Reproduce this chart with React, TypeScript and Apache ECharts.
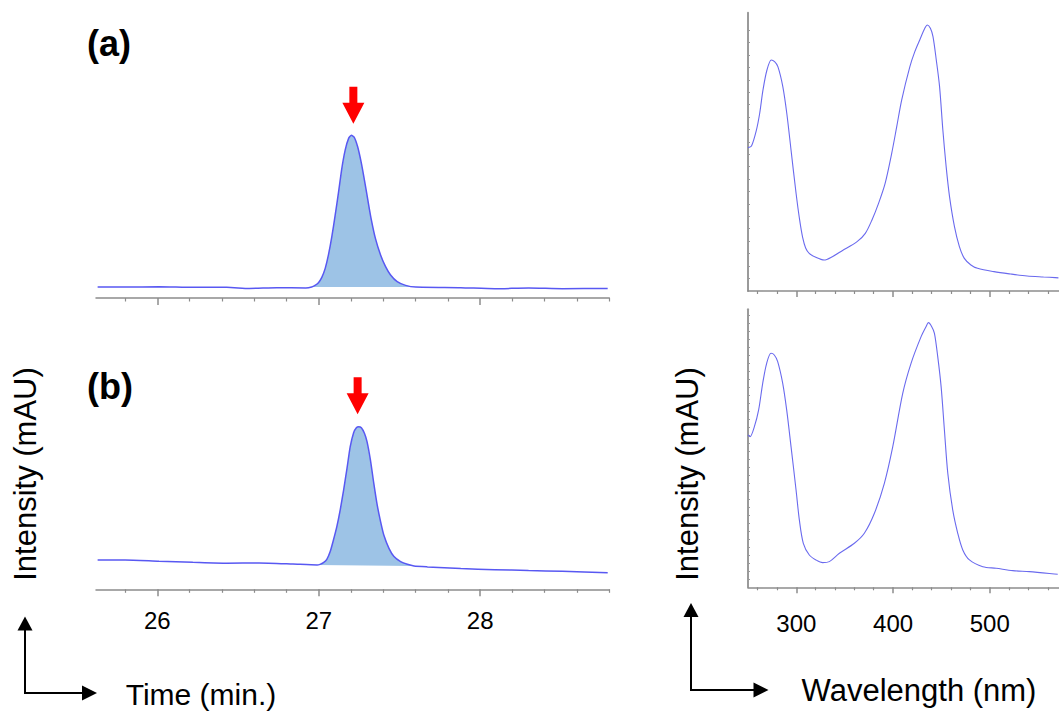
import React, { useEffect, useRef } from "react";
import * as echarts from "echarts";

// ---- Chromatogram (a): retention time (min) / detector response ----
const timeA = [
  25.63, 25.8, 26.01, 26.22, 26.43, 26.57, 26.74, 26.92,
  26.956, 26.977, 26.998, 27.019, 27.04, 27.06, 27.081, 27.102, 27.123, 27.143,
  27.164, 27.185, 27.202, 27.22, 27.241, 27.262, 27.283, 27.304, 27.324, 27.351,
  27.383, 27.414, 27.445, 27.486, 27.538, 27.601,
  27.88, 28.09, 28.3, 28.51, 28.79,
];
const signalA = [
  0.2, 0.2, 0.4, 0.0, 0.0, -0.7, -0.2, -0.4,
  0.2, 1.3, 3.1, 6.6, 12.5, 21.3, 33.3, 47.6, 62.9, 78.3,
  90.4, 98.0, 100, 98.7, 92.5, 82.7, 70.6, 57.5, 45.4, 32.2,
  21.3, 13.6, 8.1, 3.7, 1.3, 0.2,
  -0.2, -0.9, -0.4, -0.9, -0.7,
];
const peakWindowA = [26.956, 27.601];
const apexA = [27.202, 100];

// ---- Chromatogram (b) ----
const timeB = [
  25.63, 25.8, 26.01, 26.22, 26.43, 26.63, 26.84, 26.99,
  27.008, 27.029, 27.05, 27.071, 27.091, 27.112, 27.133, 27.154, 27.175, 27.195,
  27.216, 27.233, 27.247, 27.264, 27.283, 27.299, 27.32, 27.341, 27.362, 27.383,
  27.403, 27.435, 27.466, 27.507, 27.549, 27.59,
  27.674, 27.88, 28.09, 28.3, 28.51, 28.79,
];
const signalB = [
  9.9, 9.9, 9.0, 8.3, 7.7, 7.9, 7.2, 6.6,
  7.0, 8.1, 10.3, 15.4, 23.0, 31.8, 42.8, 55.9, 70.2, 84.4,
  93.6, 96.9, 97.6, 96.9, 93.2, 87.7, 75.7, 60.3, 46.1, 35.1,
  26.3, 17.5, 12.1, 8.8, 7.0, 5.9,
  5.3, 4.2, 3.5, 2.9, 2.4, 1.5,
];
const peakWindowB = [26.99, 27.59];
const apexB = [27.247, 97.6];

// ---- UV-Vis spectrum of peak (a): wavelength (nm) / absorbance ----
const wavelengthA = [
  250, 253.6, 258.7, 262.1, 265.5, 269.6, 274.1, 277.5, 280.9, 286.0, 290.1,
  294.5, 299.7, 303.4, 306.5, 309.6, 313.3, 320.1, 328.7, 337.2, 347.4, 362.8,
  371.3, 378.2, 385.0, 391.8, 398.6, 403.8, 408.9, 417.4, 422.5, 427.6, 432.8,
  435.5, 438.6, 441.3, 444.7, 448.1, 451.5, 454.9, 458.4, 463.5, 468.6, 473.7,
  480.5, 487.4, 504.4, 521.5, 538.6, 555.6, 567.6, 571,
];
const absorbanceA = [
  10.54, 10.67, 11.96, 13.31, 15.19, 16.8, 17.61, 17.47, 17.07, 15.46, 13.31,
  10.35, 6.86, 4.71, 3.3, 2.45, 2.02, 1.7, 1.48, 1.75, 2.23, 2.96,
  3.63, 4.71, 6.05, 7.66, 10.08, 12.23, 14.38, 17.07, 18.28, 19.22, 20.16,
  20.43, 20.16, 19.49, 17.61, 15.46, 11.96, 9.01, 6.59, 4.17, 2.56, 1.61,
  1.08, 0.81, 0.54, 0.35, 0.19, 0.11, 0.06, 0.04,
];

// ---- UV-Vis spectrum of peak (b) ----
const wavelengthB = [
  250, 252.1, 256.6, 261.0, 265.2, 269.3, 273.8, 277.2, 280.7, 285.9, 290.0,
  294.5, 299.7, 303.1, 307.2, 313.4, 320.3, 327.2, 334.1, 344.5, 360.0, 370.3,
  380.7, 391.0, 399.7, 410.0, 418.6, 429.0, 434.1, 436.6, 440.0, 442.8, 446.2,
  449.7, 453.1, 456.6, 461.7, 466.9, 472.1, 479.0, 492.8, 506.6, 523.8, 541.0,
  570.3, 571,
];
const absorbanceB = [
  19.04, 18.83, 20.08, 22.17, 25.5, 28.0, 29.25, 29.04, 28.21, 25.5, 22.17,
  17.58, 12.17, 8.42, 5.5, 4.04, 3.42, 3.08, 3.21, 4.25, 5.5, 6.75,
  9.25, 13.0, 17.58, 24.25, 28.0, 31.33, 32.58, 33.08, 32.58, 31.75, 28.83,
  25.08, 19.67, 14.25, 9.67, 6.75, 4.67, 3.42, 2.58, 2.38, 2.08, 1.96,
  1.63, 1.62,
];

// ---- Axis ticks ----
const timeMajorTicks = [26, 27, 28];
const timeMinorTicks = [25.8, 26.2, 26.4, 26.6, 26.8, 27.2, 27.4, 27.6, 27.8, 28.2, 28.4, 28.6, 28.8];
const wlMajorTicks = [300, 400, 500];
const wlMinorTicks = [260, 280, 320, 340, 360, 380, 420, 440, 460, 480, 520, 540, 560];
const absTicksTop = Array.from({ length: 21 }, (_, i) => i);
const absTicksBottom = Array.from({ length: 34 }, (_, i) => i + 1);

const FONT = "'Liberation Sans', Arial, Helvetica, sans-serif";
const AXIS_GRAY = "#8c8c8c";
const TRACE = "#5858f2";
const SPECTRUM = "#6a6aee";
const PEAK_FILL = "#9dc3e6";
const ARROW_PATH = "path://M7,0 L15,0 L15,16 L22,16 L11,37 L0,16 L7,16 Z";

const zip = (xs: number[], ys: number[]) => xs.map((x, i) => [x, ys[i]]);

// integrated peak area: trace between the window limits, closed by a straight baseline
function peakFill(times: number[], values: number[], win: number[], xi: number, yi: number) {
  const pts = zip(times, values).filter((p) => p[0] >= win[0] && p[0] <= win[1]);
  return {
    type: "custom",
    xAxisIndex: xi,
    yAxisIndex: yi,
    silent: true,
    z: 1,
    data: [pts[0]],
    renderItem: (params: any, api: any) => {
      if (params.dataIndex !== 0) return null;
      return {
        type: "polygon",
        shape: { points: pts.map((p) => api.coord(p)) },
        style: { fill: PEAK_FILL },
      };
    },
  };
}

function bottomAxis(gridIndex: number, min: number, max: number, ticks: number[], len: number, line: boolean, labelMargin: number | null) {
  return {
    type: "value",
    gridIndex,
    position: "bottom",
    min,
    max,
    axisLine: { show: line, onZero: false, lineStyle: { color: AXIS_GRAY, width: 1.5 } },
    axisTick: { show: true, customValues: ticks, length: len, lineStyle: { color: AXIS_GRAY, width: line ? 1.5 : 1.2 } },
    axisLabel: {
      show: labelMargin !== null,
      customValues: ticks,
      margin: labelMargin ?? 8,
      fontSize: 24,
      fontFamily: FONT,
      color: "#000",
    },
    splitLine: { show: false },
  };
}

function timeAxes(gridIndex: number, labels: boolean) {
  return [
    bottomAxis(gridIndex, 25.62, 28.8, timeMajorTicks, 7, true, labels ? 19 : null),
    bottomAxis(gridIndex, 25.62, 28.8, timeMinorTicks, 3.5, false, null),
  ];
}

function wavelengthAxes(gridIndex: number, labels: boolean) {
  return [
    bottomAxis(gridIndex, 250, 571.6, wlMajorTicks, 6, true, labels ? 24 : null),
    bottomAxis(gridIndex, 250, 571.6, wlMinorTicks, 3, false, null),
  ];
}

function absorbanceAxis(gridIndex: number, min: number, max: number, ticks: number[]) {
  return {
    type: "value",
    gridIndex,
    position: "left",
    min,
    max,
    axisLine: { show: true, onZero: false, lineStyle: { color: "#9a9a9a", width: 2 } },
    axisTick: { show: true, inside: true, customValues: ticks, length: 2, lineStyle: { color: "#9a9a9a", width: 1 } },
    axisLabel: { show: false },
    splitLine: { show: false },
  };
}

function txt(text: string, x: number, y: number, size: number, opts: any = {}) {
  return {
    type: "text",
    x,
    y,
    rotation: opts.rotation || 0,
    silent: true,
    style: {
      text,
      x: 0,
      y: 0,
      fill: "#000",
      font: `${opts.bold ? "bold " : ""}${size}px ${FONT}`,
      align: "center",
      verticalAlign: "middle",
      textAlign: "center",
      textVerticalAlign: "middle",
    },
  };
}

function cornerArrows(cx: number, cy: number, top: number, right: number) {
  const stroke = { stroke: "#000", lineWidth: 2, fill: null };
  return [
    { type: "polyline", silent: true, shape: { points: [[cx, top + 12], [cx, cy], [right - 13, cy]] }, style: stroke },
    {
      type: "polygon",
      silent: true,
      shape: { points: [[cx, top], [cx - 7.5, top + 14], [cx + 7.5, top + 14]] },
      style: { fill: "#000" },
    },
    {
      type: "polygon",
      silent: true,
      shape: { points: [[right, cy], [right - 15, cy - 7.5], [right - 15, cy + 7.5]] },
      style: { fill: "#000" },
    },
  ];
}

function arrowMark(apex: number[], dx: number, dy: number) {
  return {
    silent: true,
    symbol: ARROW_PATH,
    symbolSize: [22, 37],
    symbolKeepAspect: false,
    symbolOffset: [dx, dy],
    itemStyle: { color: "#ff0000" },
    label: { show: false },
    data: [{ coord: apex }],
  };
}

export default function App() {
  const ref = useRef<HTMLDivElement>(null);

  useEffect(() => {
    if (!ref.current) return;
    const chart = echarts.init(ref.current, null, { renderer: "svg" });

    const option: any = {
      animation: false,
      backgroundColor: "#ffffff",
      grid: [
        { left: 96, top: 112.5, width: 513.3, height: 185.5, outerBoundsMode: "none" },
        { left: 96, top: 400.2, width: 513.3, height: 189.1, outerBoundsMode: "none" },
        { left: 748, top: 12.7, width: 311, height: 278.3, outerBoundsMode: "none" },
        { left: 748, top: 309.3, width: 311, height: 278, outerBoundsMode: "none" },
      ],
      xAxis: [
        ...timeAxes(0, false),
        ...timeAxes(1, true),
        ...wavelengthAxes(2, false),
        ...wavelengthAxes(3, true),
      ],
      yAxis: [
        { type: "value", gridIndex: 0, min: -7, max: 115, show: false },
        { type: "value", gridIndex: 1, min: -9.43, max: 115, show: false },
        absorbanceAxis(2, -1.02, 21.42, absTicksTop),
        absorbanceAxis(3, 0, 34.75, absTicksBottom),
      ],
      series: [
        peakFill(timeA, signalA, peakWindowA, 0, 0),
        {
          type: "line",
          xAxisIndex: 0,
          yAxisIndex: 0,
          data: zip(timeA, signalA),
          showSymbol: false,
          smooth: 0.2,
          lineStyle: { color: TRACE, width: 1.5 },
          z: 2,
          markPoint: arrowMark(apexA, 2, -30),
        },
        peakFill(timeB, signalB, peakWindowB, 2, 1),
        {
          type: "line",
          xAxisIndex: 2,
          yAxisIndex: 1,
          data: zip(timeB, signalB),
          showSymbol: false,
          smooth: 0.2,
          lineStyle: { color: TRACE, width: 1.5 },
          z: 2,
          markPoint: arrowMark(apexB, -1, -31),
        },
        {
          type: "line",
          xAxisIndex: 4,
          yAxisIndex: 2,
          data: zip(wavelengthA, absorbanceA),
          showSymbol: false,
          smooth: 0.3,
          lineStyle: { color: SPECTRUM, width: 1.1 },
        },
        {
          type: "line",
          xAxisIndex: 6,
          yAxisIndex: 3,
          data: zip(wavelengthB, absorbanceB),
          showSymbol: false,
          smooth: 0.3,
          lineStyle: { color: SPECTRUM, width: 1.1 },
        },
      ],
      graphic: [
        txt("(a)", 109, 43, 36, { bold: true }),
        txt("(b)", 110, 386, 36, { bold: true }),
        txt("Intensity (mAU)", 25, 474, 31, { rotation: Math.PI / 2 }),
        txt("Intensity (mAU)", 687, 474, 31, { rotation: Math.PI / 2 }),
        txt("Time (min.)", 201, 694, 30),
        txt("Wavelength (nm)", 919, 690, 31),
        ...cornerArrows(25, 693, 616.5, 97),
        ...cornerArrows(691, 690, 603, 768.5),
      ],
    };

    chart.setOption(option);
    return () => chart.dispose();
  }, []);

  return (
    <div
      ref={ref}
      style={{ position: "absolute", left: 0, top: 0, width: 1059, height: 715, background: "#fff" }}
    />
  );
}
